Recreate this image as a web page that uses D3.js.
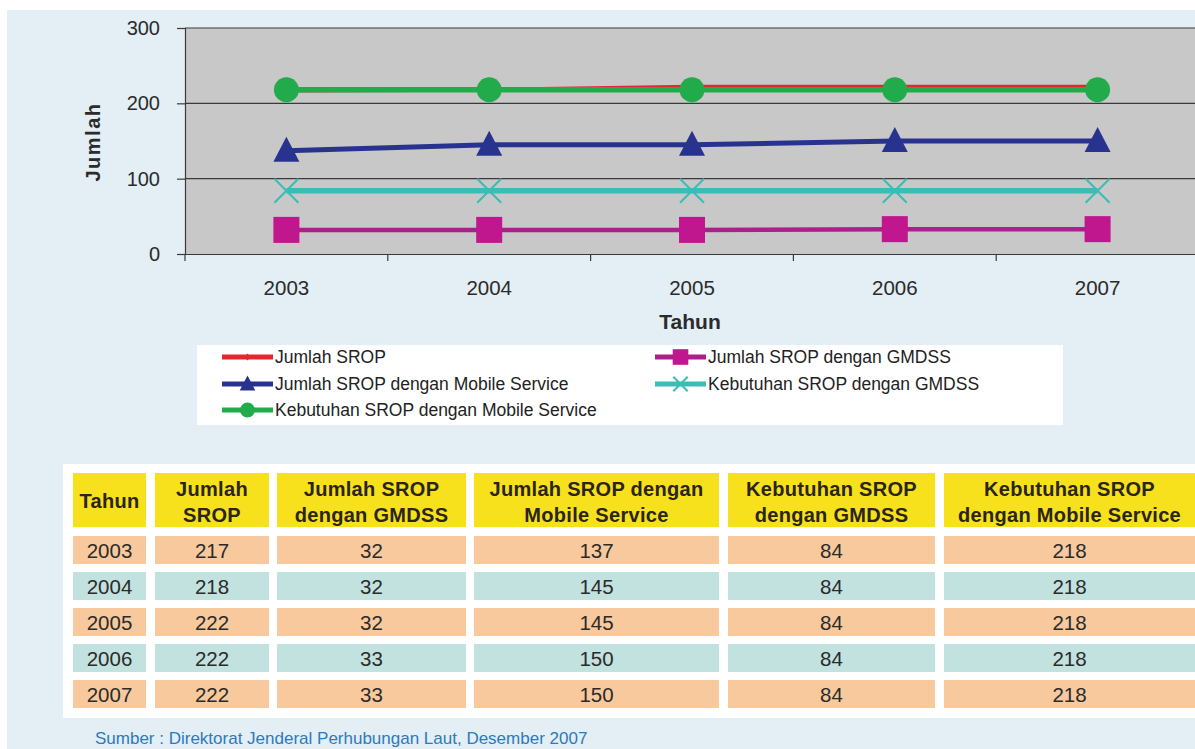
<!DOCTYPE html>
<html>
<head>
<meta charset="utf-8">
<script src="https://cdn.jsdelivr.net/npm/d3@7"></script>
<style>
  body { margin: 0; background: #fff; }
  svg { display: block; font-family: "Liberation Sans", Arial, sans-serif; }
</style>
</head>
<body>
<svg width="1195" height="749"></svg>
<script>
// data
const years = ['2003', '2004', '2005', '2006', '2007'];
const jumlahSrop = [217, 218, 222, 222, 222];
const sropGmdss = [32, 32, 32, 33, 33];
const sropMobile = [137, 145, 145, 150, 150];
const butuhGmdss = [84, 84, 84, 84, 84];
const butuhMobile = [218, 218, 218, 218, 218];
const yTicks = [0, 100, 200, 300];

const seriesNames = [
	'Jumlah SROP',
	'Jumlah SROP dengan GMDSS',
	'Jumlah SROP dengan Mobile Service',
	'Kebutuhan SROP dengan GMDSS',
	'Kebutuhan SROP dengan Mobile Service'
];
const tableHeads = [
	['Tahun'],
	['Jumlah', 'SROP'],
	['Jumlah SROP', 'dengan GMDSS'],
	['Jumlah SROP dengan', 'Mobile Service'],
	['Kebutuhan SROP', 'dengan GMDSS'],
	['Kebutuhan SROP', 'dengan Mobile Service']
];
const source = 'Sumber : Direktorat Jenderal Perhubungan Laut, Desember 2007';

// series styles (draw order: green last so it sits on top of red)
const series = [
	{name: seriesNames[0], values: jumlahSrop, color: '#e5262c', width: 4, marker: 'diamond', mcolor: '#e5262c'},
	{name: seriesNames[1], values: sropGmdss, color: '#ad1f8a', width: 4.5, marker: 'square', mcolor: '#c0168e'},
	{name: seriesNames[2], values: sropMobile, color: '#283390', width: 5, marker: 'triangle', mcolor: '#283390'},
	{name: seriesNames[3], values: butuhGmdss, color: '#3bbcb6', width: 5.5, marker: 'x', mcolor: '#3bbcb6'},
	{name: seriesNames[4], values: butuhMobile, color: '#22ab4b', width: 5.5, marker: 'circle', mcolor: '#22ab4b'}
];

const svg = d3.select('svg');

// page background
svg.append('rect').attr('width', 1195).attr('height', 749).attr('fill', '#ffffff');
svg.append('rect').attr('x', 7).attr('y', 10).attr('width', 1188).attr('height', 739).attr('fill', '#e3eef5');

// chart
const plot = {left: 185, top: 28, bottom: 254, right: 1199};
const xScale = d3.scaleBand().domain(years).range([plot.left, plot.right]);
const yScale = d3.scaleLinear().domain([0, 300]).range([plot.bottom, plot.top]);

svg.append('rect')
	.attr('x', plot.left).attr('y', plot.top)
	.attr('width', plot.right - plot.left).attr('height', plot.bottom - plot.top)
	.attr('fill', '#c8c8c8');

// grid lines
svg.append('g').selectAll('line')
	.data(yTicks.slice(1))
	.enter().append('line')
	.attr('x1', plot.left).attr('x2', plot.right)
	.attr('y1', d => yScale(d)).attr('y2', d => yScale(d))
	.attr('stroke', '#3a3a3a').attr('stroke-width', 1.2);

let yAxis = svg.append('g')
	.attr('transform', `translate(${plot.left},0)`)
	.call(d3.axisLeft(yScale).tickValues(yTicks).tickSize(8).tickPadding(17));
yAxis.select('.domain').attr('stroke', '#3a3a3a').attr('stroke-width', 1.2);
yAxis.selectAll('line').attr('stroke', '#3a3a3a').attr('stroke-width', 1.2);
yAxis.selectAll('text').style('font-size', '20px').attr('fill', '#2b2b2b');

let xAxis = svg.append('g')
	.attr('transform', `translate(0,${plot.bottom})`)
	.call(d3.axisBottom(xScale).tickSize(0).tickPadding(26));
xAxis.select('.domain').attr('stroke', '#3a3a3a').attr('stroke-width', 1.2);
xAxis.selectAll('text').style('font-size', '20.5px').attr('fill', '#2b2b2b');

// boundary ticks between categories
svg.append('g').selectAll('line')
	.data(years.concat(['end']))
	.enter().append('line')
	.attr('x1', (d, i) => plot.left + i * xScale.step())
	.attr('x2', (d, i) => plot.left + i * xScale.step())
	.attr('y1', plot.bottom).attr('y2', plot.bottom + 7)
	.attr('stroke', '#3a3a3a').attr('stroke-width', 1.2);

// axis titles
svg.append('text')
	.attr('transform', 'translate(100,142) rotate(-90)')
	.attr('text-anchor', 'middle')
	.style('font-size', '20px').style('font-weight', 'bold').style('letter-spacing', '1.5px')
	.attr('fill', '#2b2b2b')
	.text('Jumlah');
svg.append('text')
	.attr('x', 690).attr('y', 329)
	.attr('text-anchor', 'middle')
	.style('font-size', '21px').style('font-weight', 'bold').attr('fill', '#2b2b2b')
	.text('Tahun');

const cx = d => xScale(d) + xScale.bandwidth() / 2;

function drawMarker(g, type, color, scale) {
	const s = scale || 1;
	if (type === 'circle') {
		g.append('circle').attr('r', 12.5 * s).attr('fill', color);
	} else if (type === 'square') {
		g.append('rect').attr('x', -13 * s).attr('y', -13 * s)
			.attr('width', 26 * s).attr('height', 26 * s).attr('fill', color);
	} else if (type === 'triangle') {
		g.append('path').attr('d', `M0,${-14 * s}L${13 * s},${11 * s}L${-13 * s},${11 * s}Z`).attr('fill', color);
	} else if (type === 'diamond') {
		g.append('path').attr('d', `M0,${-6 * s}L${5 * s},0L0,${6 * s}L${-5 * s},0Z`).attr('fill', color);
	} else if (type === 'x') {
		g.append('path').attr('d', `M${-12 * s},${-12 * s}L${12 * s},${12 * s}M${12 * s},${-12 * s}L${-12 * s},${12 * s}`)
			.attr('stroke', color).attr('stroke-width', 2).attr('fill', 'none');
	}
}

const line = d3.line().x((d, i) => cx(years[i])).y(d => yScale(d));

series.forEach(s => {
	svg.append('path')
		.datum(s.values)
		.attr('d', line)
		.attr('fill', 'none')
		.attr('stroke', s.color)
		.attr('stroke-width', s.width);
	s.values.forEach((v, i) => {
		let g = svg.append('g').attr('transform', `translate(${cx(years[i])},${yScale(v)})`);
		drawMarker(g, s.marker, s.mcolor);
	});
});

// legend
svg.append('rect')
	.attr('x', 197).attr('y', 345).attr('width', 866).attr('height', 80)
	.attr('fill', '#ffffff');

const legendPos = [
	[222, 357], [655, 357], [222, 384], [655, 384], [222, 410]
];
series.forEach((s, i) => {
	let g = svg.append('g').attr('transform', `translate(${legendPos[i][0]},${legendPos[i][1]})`);
	g.append('line').attr('x1', 0).attr('x2', 51).attr('y1', 0).attr('y2', 0)
		.attr('stroke', s.color).attr('stroke-width', 5);
	let m = g.append('g').attr('transform', 'translate(25.5,0)');
	drawMarker(m, s.marker, s.mcolor, 0.6);
	g.append('text').attr('x', 53).attr('y', 6)
		.style('font-size', '17.5px').attr('fill', '#222')
		.text(s.name);
});

// table
svg.append('rect')
	.attr('x', 63).attr('y', 464).attr('width', 1132).attr('height', 254)
	.attr('fill', '#ffffff');

const colEdges = [[73, 146], [155, 269], [277, 466], [474, 719], [728, 935], [944, 1195]];
const headTop = 473, headBottom = 527, rowTop = 536, rowH = 28, rowStep = 36;

const table = svg.append('g');
tableHeads.forEach((lines, c) => {
	const [x0, x1] = colEdges[c];
	table.append('rect')
		.attr('x', x0).attr('y', headTop).attr('width', x1 - x0).attr('height', headBottom - headTop)
		.attr('fill', '#f6e11c');
	const mid = (x0 + x1) / 2;
	lines.forEach((t, j) => {
		const y = lines.length === 1 ? 508 : 496 + j * 26;
		table.append('text')
			.attr('x', mid).attr('y', y).attr('text-anchor', 'middle')
			.style('font-size', '20px').style('font-weight', 'bold').style('letter-spacing', '0.3px')
			.attr('fill', '#2b2419')
			.text(t);
	});
});

const rows = years.map((yr, i) => [yr, jumlahSrop[i], sropGmdss[i], sropMobile[i], butuhGmdss[i], butuhMobile[i]]);
rows.forEach((r, i) => {
	const y0 = rowTop + i * rowStep;
	r.forEach((v, c) => {
		const [x0, x1] = colEdges[c];
		table.append('rect')
			.attr('x', x0).attr('y', y0).attr('width', x1 - x0).attr('height', rowH)
			.attr('fill', i % 2 === 0 ? '#f8c99c' : '#c2e2df');
		table.append('text')
			.attr('x', (x0 + x1) / 2).attr('y', y0 + 22).attr('text-anchor', 'middle')
			.style('font-size', '20.5px').attr('fill', '#2b2b2b')
			.text(v);
	});
});

// source note
svg.append('text')
	.attr('x', 95).attr('y', 744)
	.style('font-size', '17px').attr('fill', '#2b7bbd')
	.text(source);
</script>
</body>
</html>
